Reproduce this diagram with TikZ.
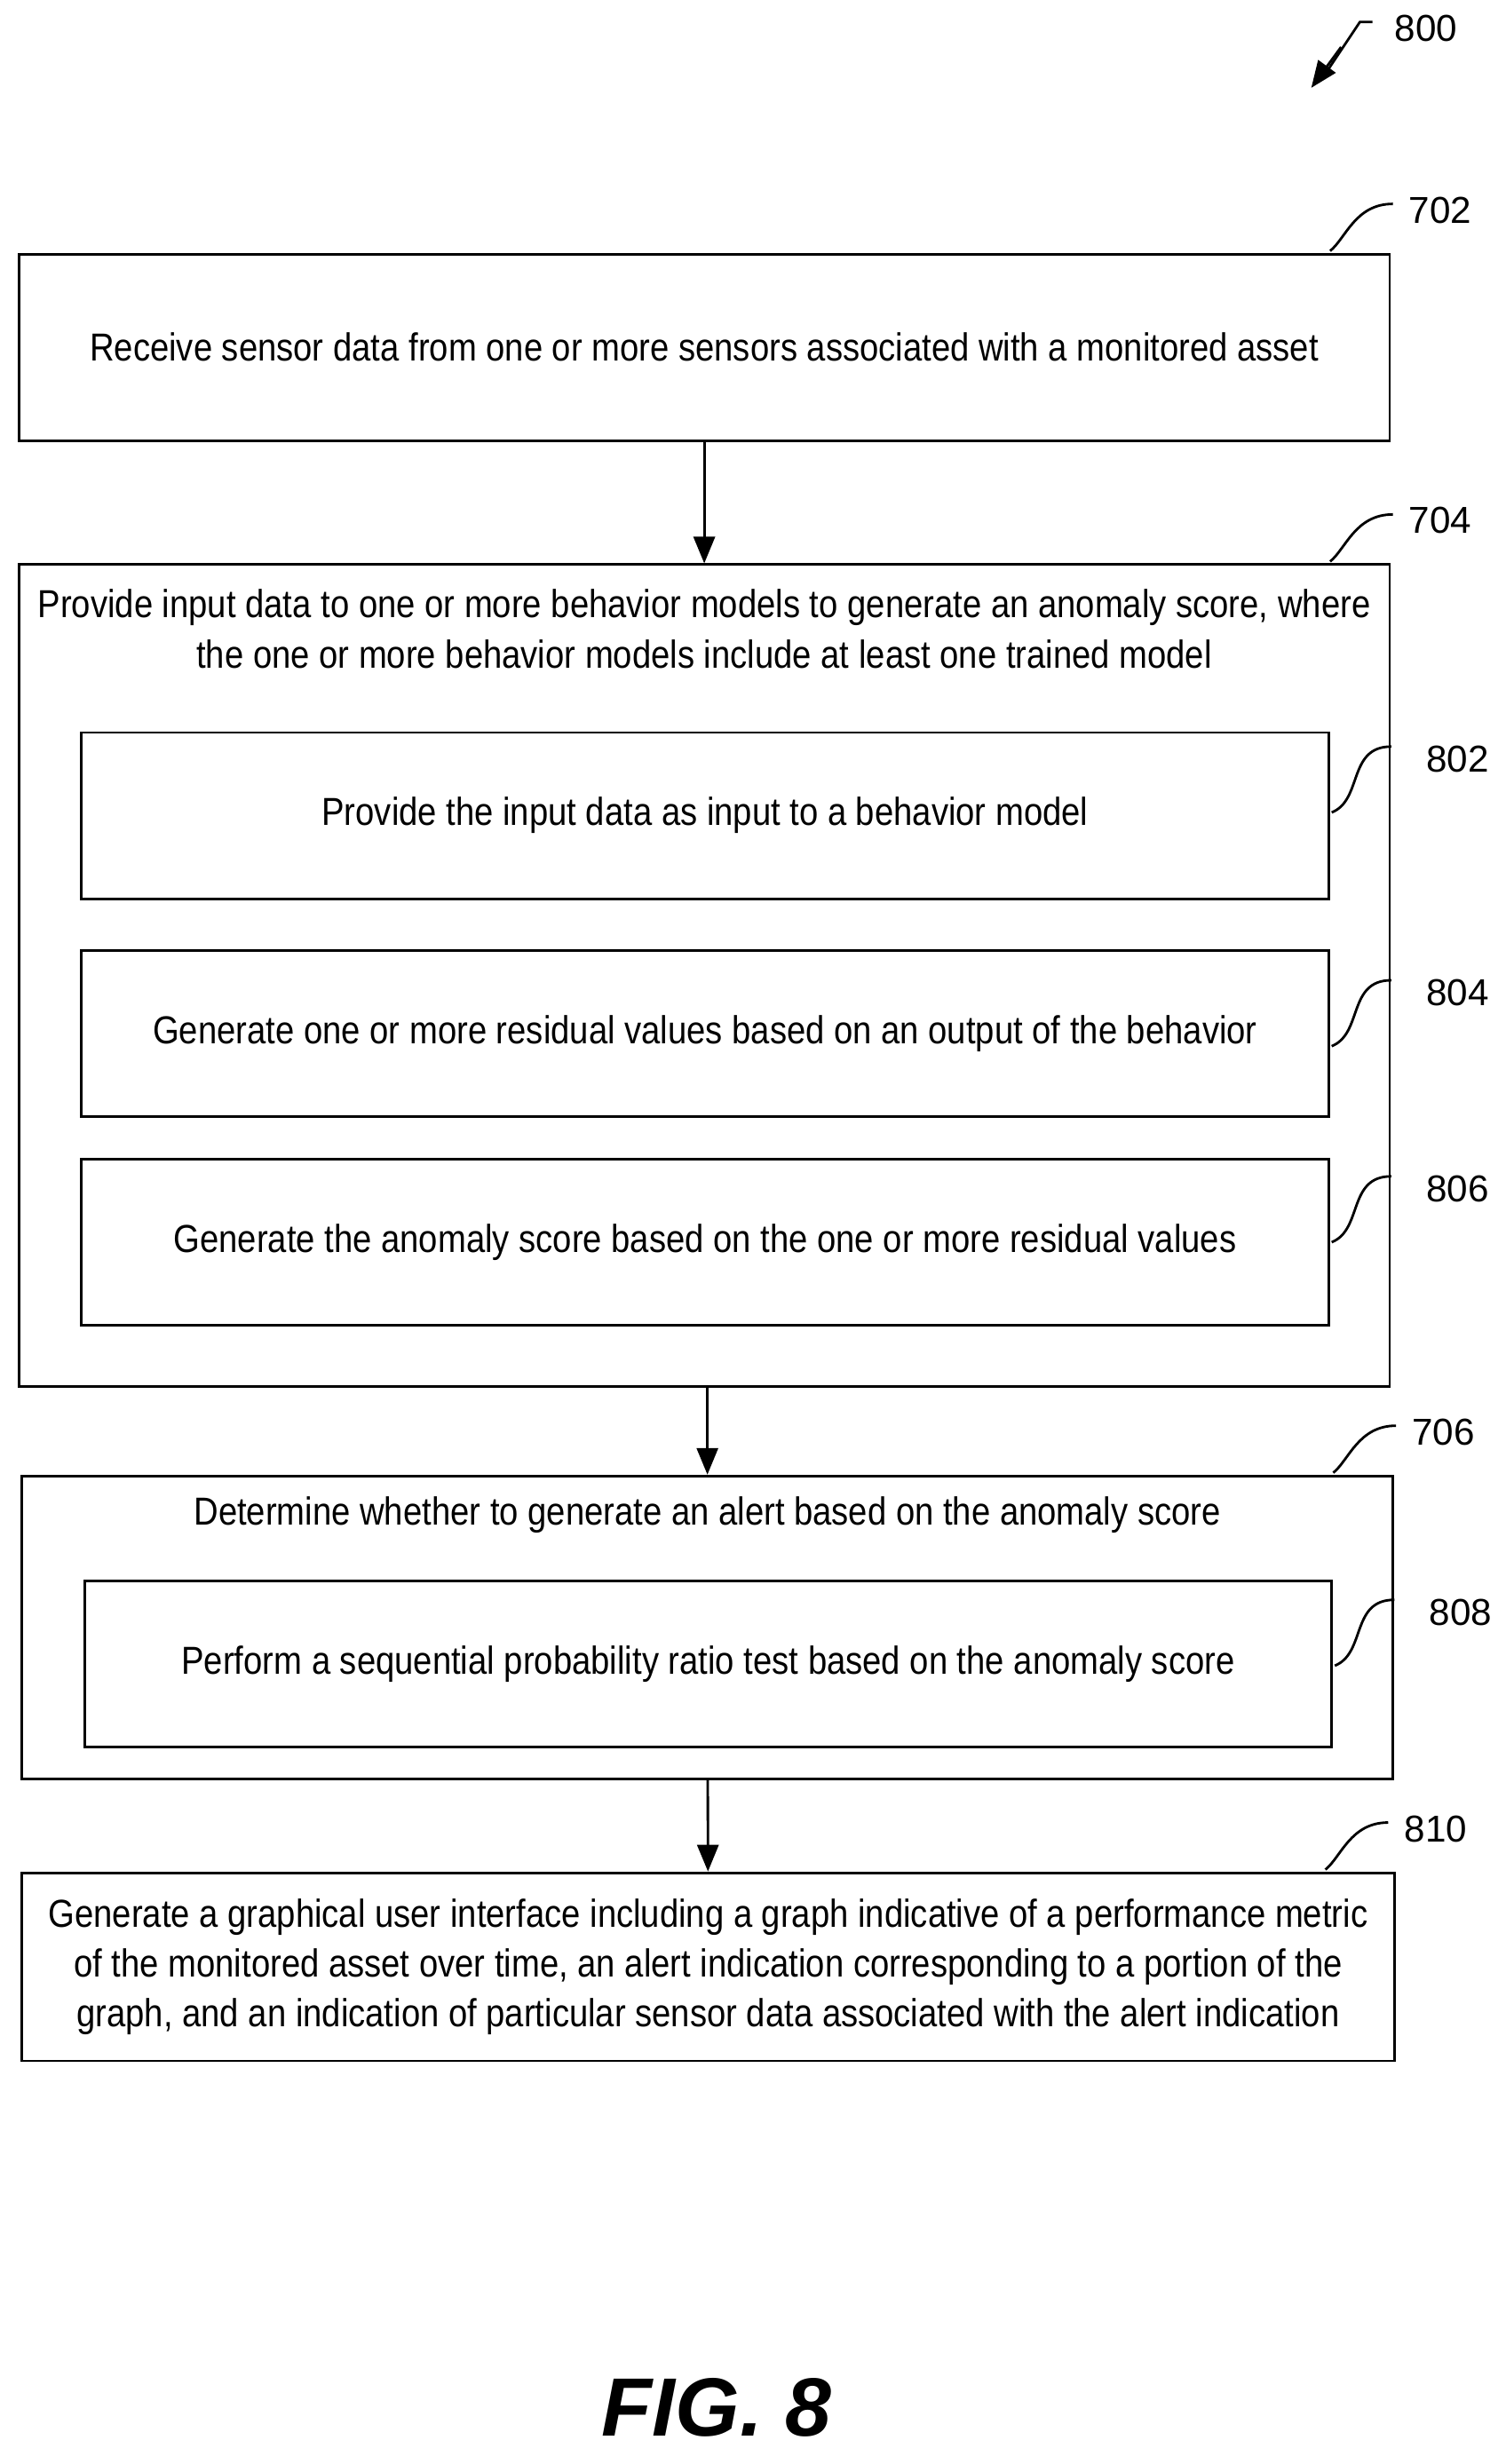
\documentclass[tikz,border=0pt]{standalone}
\usepackage{fontspec}
\setmainfont{Liberation Sans}
\usetikzlibrary{arrows.meta, math}
\def\u{0.01766cm}
\def\sx{0.87}

\tikzset{
	box/.style = {draw, thick, minimum width = #1, inner sep = 0pt},
	txt/.style = {font = \fontsize{12.5}{16}\selectfont, align = center},
	refnum/.style = {font = \fontsize{12}{14}\selectfont, anchor = west, inner sep = 1pt},
	lead/.style = {thick},
	flow/.style = {thick, -{Triangle[length = 3mm, width = 2.4mm]}}
}

\begin{document}
\begin{tikzpicture}[x = \u, y = -\u]

	% márgenes del dibujo
	\useasboundingbox (0,0) rectangle (960,1571);

	% cajas principales
	\node[box = 874*\u, minimum height = 119*\u, txt] (s702) at (449,221.5)
		{\scalebox{\sx}[1]{Receive sensor data from one or more sensors associated with a monitored asset}};
	\node[box = 874*\u, minimum height = 524*\u] (s704) at (449,622) {};
	\node[box = 874*\u, minimum height = 193*\u] (s706) at (451,1037.5) {};
	\node[box = 875*\u, minimum height = 120*\u, txt] (s810) at (451.5,1254)
		{\scalebox{\sx}[1]{Generate a graphical user interface including a graph indicative of a performance metric}\\
		 \scalebox{\sx}[1]{of the monitored asset over time, an alert indication corresponding to a portion of the}\\
		 \scalebox{\sx}[1]{graph, and an indication of particular sensor data associated with the alert indication}};

	% títulos de las cajas compuestas
	\node[txt] (t704) at (449,401)
		{\scalebox{\sx}[1]{Provide input data to one or more behavior models to generate an anomaly score, where}\\
		 \scalebox{\sx}[1]{the one or more behavior models include at least one trained model}};
	\node[txt] (t706) at (451,966)
		{\scalebox{\sx}[1]{Determine whether to generate an alert based on the anomaly score}};

	% subcajas
	\node[box = 795*\u, minimum height = 106*\u, txt] (s802) at (449.5,520)
		{\scalebox{\sx}[1]{Provide the input data as input to a behavior model}};
	\node[box = 795*\u, minimum height = 106*\u, txt] (s804) at (449.5,659)
		{\scalebox{\sx}[1]{Generate one or more residual values based on an output of the behavior}};
	\node[box = 795*\u, minimum height = 106*\u, txt] (s806) at (449.5,792)
		{\scalebox{\sx}[1]{Generate the anomaly score based on the one or more residual values}};
	\node[box = 795*\u, minimum height = 106*\u, txt] (s808) at (451.5,1061)
		{\scalebox{\sx}[1]{Perform a sequential probability ratio test based on the anomaly score}};

	% flechas
	\draw[flow] (s702) -- (s704);
	\draw[flow] (s704.south -| s706) -- (s706);
	\draw[flow] (s706) -- (s810);

	% números de referencia de las cajas principales
	\foreach \n/\x/\y in {702/848/160, 704/848/358, 706/850/939, 810/845/1192} {
		\coordinate (c\n) at (\x+40,\y-30);
		\draw[lead] (\x,\y) .. controls (\x+10,\y-8) and (\x+16,\y-30) .. (c\n);
		\node[refnum] at ([xshift = 4pt, yshift = -2pt]c\n) {\n};
	}

	% números de referencia de las subcajas
	\foreach \n/\x/\y in {802/849/518, 804/849/667, 806/849/792, 808/851/1062} {
		\coordinate (c\n) at (\x+38,\y-42);
		\draw[lead] (\x,\y) .. controls (\x+20,\y-8) and (\x+10,\y-42) .. (c\n);
		\node[refnum] at ([xshift = 10pt, yshift = -4pt]c\n) {\n};
	}

	% número de la figura
	\coordinate (c800) at (875,14);
	\draw[thick] (c800) -- ++(-8,0) -- ++(-20,30);
	\draw[flow] (855,30) -- (836,56);
	\node[refnum] at ([xshift = 6pt, yshift = -2pt]c800) {800};

	\node[font = \bfseries\itshape\fontsize{26.5}{30}\selectfont] (fig) at (457,1535) {FIG. 8};

\end{tikzpicture}
\end{document}
